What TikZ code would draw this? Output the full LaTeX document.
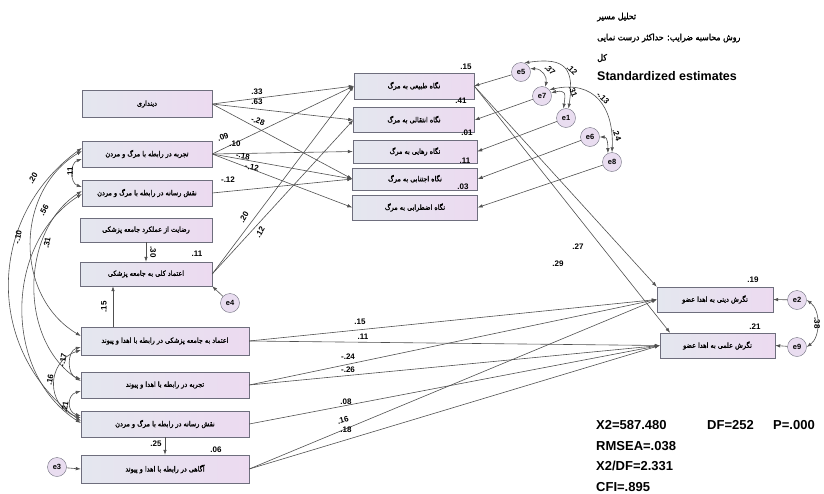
\documentclass[tikz,border=0pt]{standalone}
\usepackage{fontspec}
\setmainfont{Liberation Sans}
\newfontfamily\farsi[Script=Arabic, FakeBold=1.6]{DejaVu Sans Condensed}
\TeXXeTstate=1
\usetikzlibrary{arrows.meta}

\definecolor{boxleft}{RGB}{228,231,239}
\definecolor{boxright}{RGB}{236,218,240}
\definecolor{boxline}{RGB}{110,110,125}
\definecolor{errfill}{RGB}{233,221,240}
\definecolor{linegray}{RGB}{80,80,80}

\newcommand{\fa}[1]{{\farsi\beginR #1\endR}}

\begin{document}
\begin{tikzpicture}[x = 1pt, y = -1pt,
    obs/.style = {draw = boxline, left color = boxleft, right color = boxright, inner sep = 0pt, font = \fontsize{7.2}{8}\selectfont},
    err/.style = {circle, draw = boxline, fill = errfill, minimum size = 19pt, inner sep = 0pt, font = \fontsize{7.5}{8}\selectfont\bfseries},
    reg/.style = {draw = linegray, line width = .6pt, -{Latex[length = 5pt, width = 3.5pt]}},
    cov/.style = {draw = linegray, line width = .6pt, {Latex[length = 5pt, width = 3.5pt]}-{Latex[length = 5pt, width = 3.5pt]}},
    coef/.style = {font = \fontsize{8}{9}\selectfont\bfseries, inner sep = 0pt},
    stat/.style = {font = \fontsize{13}{14}\selectfont\bfseries, anchor = west, inner sep = 0pt},
    head/.style = {font = \farsi\fontsize{8.8}{10}\selectfont, anchor = west, inner sep = 0pt}]

    \useasboundingbox (0, 0) rectangle (824, 493);

    % title
    \node[head] (t1) at (597, 17) {\beginR تحلیل مسیر\endR};
    \node[head] (t2) at (597, 38) {\beginR روش محاسبه ضرایب: حداکثر درست نمایی\endR};
    \node[head] (t3) at (597, 58) {\beginR کل\endR};
    \node[stat, font = \fontsize{12.5}{14}\selectfont\bfseries] (t4) at (597, 76) {Standardized estimates};

    % left column, death and medicine
    \node[obs, minimum width = 130, minimum height = 27] (dindari) at (147, 104) {\fa{دینداری}};
    \node[obs, minimum width = 130, minimum height = 26] (marg) at (147, 154) {\fa{تجربه در رابطه با مرگ و مردن}};
    \node[obs, minimum width = 130, minimum height = 26] (resane) at (147, 193) {\fa{نقش رسانه در رابطه با مرگ و مردن}};
    \node[obs, minimum width = 132, minimum height = 24] (rezayat) at (146, 230) {\fa{رضایت از عملکرد جامعه پزشکی}};
    \node[obs, minimum width = 132, minimum height = 24] (etemad) at (146, 274) {\fa{اعتماد کلی به جامعه پزشکی}};
    \node[err] (e4) at (230, 303) {e4};

    % left column, donation
    \node[obs, minimum width = 168, minimum height = 28] (etemadpey) at (165, 341) {\fa{اعتماد به جامعه پزشکی در رابطه با اهدا و پیوند}};
    \node[obs, minimum width = 168, minimum height = 26] (tajrobepey) at (165, 385) {\fa{تجربه در رابطه با اهدا و پیوند}};
    \node[obs, minimum width = 168, minimum height = 26] (resanepey) at (165, 424) {\fa{نقش رسانه در رابطه با مرگ و مردن}};
    \node[obs, minimum width = 168, minimum height = 28] (agahi) at (165, 469) {\fa{آگاهی در رابطه با اهدا و پیوند}};
    \node[err] (e3) at (57, 467) {e3};

    % views of death
    \node[obs, minimum width = 120, minimum height = 26] (tabiei) at (414, 86) {\fa{نگاه طبیعی به مرگ}};
    \node[obs, minimum width = 121, minimum height = 25] (entegali) at (414, 120) {\fa{نگاه انتقالی به مرگ}};
    \node[obs, minimum width = 124, minimum height = 23] (rahaei) at (415, 151.5) {\fa{نگاه رهایی به مرگ}};
    \node[obs, minimum width = 125, minimum height = 22] (ejtenabi) at (415, 179) {\fa{نگاه اجتنابی به مرگ}};
    \node[obs, minimum width = 125, minimum height = 25] (ezterabi) at (415, 207.5) {\fa{نگاه اضطرابی به مرگ}};

    \node[err] (e5) at (521, 72) {e5};
    \node[err] (e7) at (542, 96) {e7};
    \node[err] (e1) at (566, 118) {e1};
    \node[err] (e6) at (590, 137) {e6};
    \node[err] (e8) at (612, 162) {e8};

    % attitudes to donation
    \node[obs, minimum width = 116, minimum height = 25] (dini) at (715, 299.5) {\fa{نگرش دینی به اهدا عضو}};
    \node[obs, minimum width = 115, minimum height = 25] (elmi) at (717.5, 345.5) {\fa{نگرش علمی به اهدا عضو}};
    \node[err] (e2) at (797, 300) {e2};
    \node[err] (e9) at (797, 347) {e9};

    % paths into views of death
    \draw[reg] (dindari.east) -- (tabiei.west);
    \draw[reg] (dindari.east) -- (entegali.west);
    \draw[reg] (dindari.east) -- (ejtenabi.west);
    \draw[reg] (marg.east) -- (tabiei.west);
    \draw[reg] (marg.east) -- (rahaei.west);
    \draw[reg] (marg.east) -- (ejtenabi.west);
    \draw[reg] (marg.east) -- (ezterabi.west);
    \draw[reg] (resane.east) -- (ejtenabi.west);
    \draw[reg] (etemad.east) -- (tabiei.west);
    \draw[reg] (etemad.east) -- (entegali.west);
    \draw[reg] (rezayat.south) -- (etemad.north);
    \draw[reg] ([xshift = -52pt]etemadpey.north) -- ([xshift = -33pt]etemad.south);
    \draw[reg] (e4) -- (etemad.south east);
    \draw[reg] (resanepey.south) -- (agahi.north);
    \draw[reg] (e3) -- (agahi.west);

    % errors of views
    \draw[reg] (e5) -- (tabiei.east);
    \draw[reg] (e7) -- (entegali.east);
    \draw[reg] (e1) -- (rahaei.east);
    \draw[reg] (e6) -- (ejtenabi.east);
    \draw[reg] (e8) -- (ezterabi.east);

    % paths into attitudes
    \draw[reg] (etemadpey.east) -- (dini.west);
    \draw[reg] (etemadpey.east) -- (elmi.west);
    \draw[reg] (tajrobepey.east) -- (dini.west);
    \draw[reg] (tajrobepey.east) -- (elmi.west);
    \draw[reg] (resanepey.east) -- (elmi.west);
    \draw[reg] (agahi.east) -- (dini.west);
    \draw[reg] (agahi.east) -- (elmi.west);
    \draw[reg] (tabiei.east) -- (dini.north west);
    \draw[reg] (tabiei.east) -- (elmi.165);
    \draw[reg] (e2) -- (dini.east);
    \draw[reg] (e9) -- (elmi.east);

    % covariances, left
    \draw[cov] ([yshift = -5pt]marg.west) .. controls +(-12, 4) and +(-12, -4) .. ([yshift = 6pt]resane.west);
    \draw[cov] ([yshift = 3pt]marg.west) .. controls +(-67, 40) and +(-67, -40) .. ([yshift = 5pt]etemadpey.west);
    \draw[cov] ([yshift = 6pt]marg.west) .. controls +(-96, 70) and +(-96, -70) .. ([yshift = 3pt]resanepey.west);
    \draw[cov] ([yshift = 2pt]resane.west) .. controls +(-62, 40) and +(-62, -40) .. ([yshift = 4pt]tajrobepey.west);
    \draw[cov] ([yshift = -1pt]resane.west) .. controls +(-78, 50) and +(-78, -50) .. ([yshift = 1pt]resanepey.west);
    \draw[cov] ([yshift = -6pt]etemadpey.west) .. controls +(-14, 4) and +(-14, -4) .. ([yshift = 6pt]tajrobepey.west);
    \draw[cov] ([yshift = -9pt]etemadpey.west) .. controls +(-35, 12) and +(-35, -12) .. ([yshift = 6pt]resanepey.west);
    \draw[cov] ([yshift = -6pt]tajrobepey.west) .. controls +(-14, 4) and +(-14, -4) .. ([yshift = 8pt]resanepey.west);

    % covariances, errors
    \draw[cov] (e5.20) .. controls +(12, 0) and +(2, -10) .. (e7.70);
    \draw[cov] (e5.70) .. controls +(42, -6) and +(6, -40) .. (e1.75);
    \draw[cov] (e7.20) .. controls +(15, -3) and +(2, -15) .. (e1.105);
    \draw[cov] (e7.40) .. controls +(45, -10) and +(2, -45) .. (e8.90);
    \draw[cov] (e6.east) .. controls +(8, 0) and +(0, -8) .. (e8.115);
    \draw[cov] (e2.east) .. controls +(14, 10) and +(14, -10) .. (e9.east);

    % estimates
    \node[coef] (b1) at (257, 92) {.33};
    \node[coef] (b2) at (257, 102) {.63};
    \node[coef, rotate = -20] (b3) at (258, 121) {-.28};
    \node[coef, rotate = 20] (b4) at (223, 137) {.09};
    \node[coef] (b5) at (235, 144) {.10};
    \node[coef, rotate = -10] (b6) at (243, 156) {-.18};
    \node[coef, rotate = -10] (b7) at (252, 167) {-.12};
    \node[coef] (b8) at (228, 180) {-.12};
    \node[coef, rotate = 60] (b9) at (244, 217) {.20};
    \node[coef, rotate = 60] (b10) at (260, 232) {.12};
    \node[coef, rotate = -90] (b11) at (153, 252) {.30};
    \node[coef] (b12) at (197, 254) {.11};
    \node[coef, rotate = 90] (b13) at (104, 307) {.15};
    \node[coef, rotate = 90] (b14) at (70, 172) {.11};
    \node[coef, rotate = 60] (b15) at (33, 178) {.20};
    \node[coef, rotate = 60] (b16) at (44, 210) {.56};
    \node[coef, rotate = 80] (b17) at (18, 237) {-.10};
    \node[coef, rotate = 80] (b18) at (47, 243) {.31};
    \node[coef, rotate = 80] (b19) at (63, 360) {-.17};
    \node[coef, rotate = 80] (b20) at (50, 380) {.16};
    \node[coef, rotate = 80] (b21) at (65, 407) {.21};
    \node[coef] (b22) at (156, 444) {.25};
    \node[coef] (b23) at (216, 450) {.06};
    \node[coef] (b24) at (360, 322) {.15};
    \node[coef] (b25) at (363, 337) {.11};
    \node[coef] (b26) at (348, 357) {-.24};
    \node[coef] (b27) at (348, 370) {-.26};
    \node[coef] (b28) at (346, 402) {.08};
    \node[coef, rotate = 15] (b29) at (343, 420) {.16};
    \node[coef] (b30) at (346, 430) {.18};
    \node[coef] (b31) at (578, 247) {.27};
    \node[coef] (b32) at (558, 264) {.29};
    \node[coef] (r1) at (466, 67) {.15};
    \node[coef] (r2) at (461, 101) {.41};
    \node[coef] (r3) at (467, 133) {.01};
    \node[coef] (r4) at (465, 161) {.11};
    \node[coef] (r5) at (463, 187) {.03};
    \node[coef] (r6) at (753, 280) {.19};
    \node[coef] (r7) at (755, 327) {.21};
    \node[coef, rotate = -45] (c1) at (550, 70) {.37};
    \node[coef, rotate = -45] (c2) at (572, 70) {.12};
    \node[coef, rotate = -70] (c3) at (573, 92) {.31};
    \node[coef, rotate = -45] (c4) at (603, 98) {-.13};
    \node[coef, rotate = -70] (c5) at (617, 135) {.24};
    \node[coef, rotate = -90] (c6) at (817, 323) {.38};

    % fit
    \node[stat] (f1) at (596, 425) {X2=587.480};
    \node[stat] (f2) at (707, 425) {DF=252};
    \node[stat] (f3) at (773, 425) {P=.000};
    \node[stat] (f4) at (596, 446) {RMSEA=.038};
    \node[stat] (f5) at (596, 466) {X2/DF=2.331};
    \node[stat] (f6) at (596, 487) {CFI=.895};
\end{tikzpicture}
\end{document}
